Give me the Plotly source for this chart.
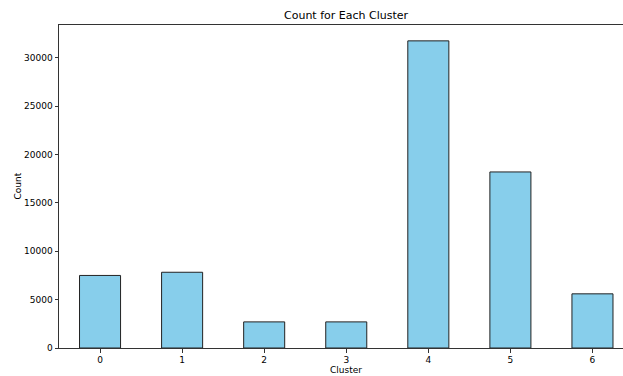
import plotly.graph_objects as go

clusters = [0, 1, 2, 3, 4, 5, 6]
counts = [7500, 7830, 2700, 2700, 31750, 18200, 5600]
y_ticks = [0, 5000, 10000, 15000, 20000, 25000, 30000]

W, H = 623, 376
L, R, T, B = 59, 0, 25, 28
x_lo, x_hi_full = -0.5, 6.5
px_per_unit = 82.0
x_hi = x_hi_full - 10.5 / px_per_unit  # figure cropped at right edge

font_fam = "DejaVu Sans"

fig = go.Figure(
    go.Bar(
        x=clusters,
        y=counts,
        width=0.5,
        marker=dict(color="#87CEEB", line=dict(color="#222222", width=1)),
        hoverinfo="skip",
    )
)

plot_w = W - L - R
plot_h = H - T - B
center_px = L + (x_hi_full - x_lo) * px_per_unit / 2
center_paper = (center_px - L) / plot_w

fig.update_layout(
    width=W,
    height=H,
    margin=dict(l=L, r=R, t=T, b=B, autoexpand=False),
    plot_bgcolor="white",
    paper_bgcolor="white",
    showlegend=False,
    font=dict(family=font_fam, size=9, color="black"),
    xaxis=dict(
        range=[x_lo, x_hi],
        tickvals=clusters,
        ticktext=[str(c) for c in clusters],
        showgrid=False,
        zeroline=False,
        showline=True,
        linecolor="#333333",
        linewidth=1,
        mirror=True,
        ticks="outside",
        ticklen=3.5,
        tickwidth=0.8,
        tickcolor="#333333",
        tickfont=dict(size=9),
        automargin=False,
        fixedrange=True,
    ),
    yaxis=dict(
        range=[0, 33390],
        tickvals=y_ticks,
        ticktext=[str(v) for v in y_ticks],
        showgrid=False,
        zeroline=False,
        showline=True,
        linecolor="#333333",
        linewidth=1,
        ticks="outside",
        ticklen=3.5,
        tickwidth=0.8,
        tickcolor="#333333",
        tickfont=dict(size=9),
        automargin=False,
        fixedrange=True,
    ),
    annotations=[
        dict(
            text="Count for Each Cluster",
            x=center_paper,
            xref="paper",
            y=1 + (T - 16) / plot_h,
            yref="paper",
            showarrow=False,
            font=dict(size=11),
            xanchor="center",
            yanchor="middle",
        ),
        dict(
            text="Cluster",
            x=center_paper,
            xref="paper",
            y=-(370 - (H - B)) / plot_h,
            yref="paper",
            showarrow=False,
            font=dict(size=9),
            xanchor="center",
            yanchor="middle",
        ),
        dict(
            text="Count",
            x=-(L - 17) / plot_w,
            xref="paper",
            y=0.5,
            yref="paper",
            textangle=-90,
            showarrow=False,
            font=dict(size=9),
            xanchor="center",
            yanchor="middle",
        ),
    ],
)

fig.write_html(
    "out.html",
    config={"displayModeBar": False, "responsive": False},
    post_script="document.body.style.margin='0';document.body.style.overflow='hidden';",
)
